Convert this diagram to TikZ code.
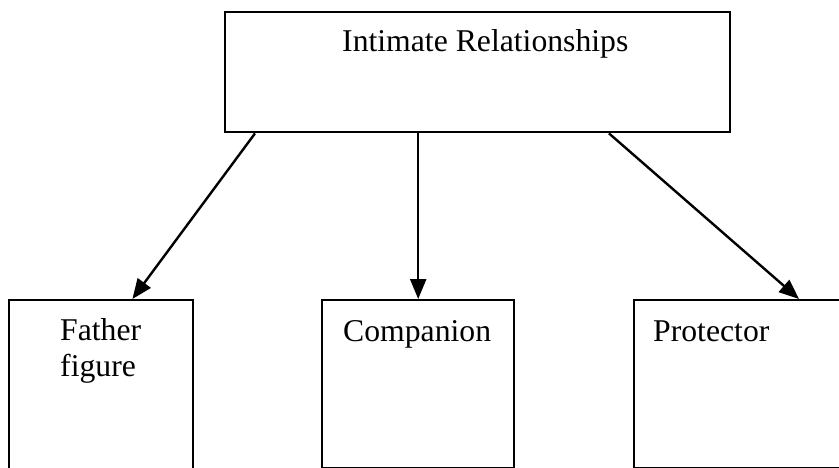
\documentclass[tikz,border=0pt]{standalone}
\usepackage{fontspec}
\setmainfont{Liberation Serif}
\usetikzlibrary{arrows.meta}
\begin{document}
\begin{tikzpicture}[x=1pt,y=-1pt,
  box/.style={draw=black,line width=2.4pt,rectangle,inner sep=0pt,anchor=north west},
  lbl/.style={anchor=base west,inner sep=0pt,font=\fontsize{31.7}{36}\selectfont,align=left},
  arr/.style={line width=2.4pt,-{Triangle[length=20pt,width=16pt]}}]
  \clip (0,0) rectangle (839,468);
  % boxes
  \node[box,minimum width=505pt,minimum height=120pt] (top) at (224,11) {};
  \node[box,minimum width=184pt,minimum height=190pt] (father) at (8,299) {};
  \node[box,minimum width=192pt,minimum height=168pt] (companion) at (321,299) {};
  \node[box,minimum width=240pt,minimum height=168pt] (protector) at (633,299) {};
  % labels (a two-line node sits on the baseline of its last line)
  \node[lbl] (ttop) at (342,52) {Intimate Relationships};
  \node[lbl] (tfather) at (60,376) {Father\\figure};
  \node[lbl] (tcomp) at (343,341) {Companion};
  \node[lbl] (tprot) at (653,341) {Protector};
  % connectors
  \draw[arr] ([xshift=31pt]top.south west) -- ([xshift=-62pt]father.north east);
  \draw[arr] (top.south -| companion.north) -- (companion.north);
  \draw[arr] ([xshift=385pt]top.south west) -- ([xshift=166pt]protector.north west);
\end{tikzpicture}
\end{document}
